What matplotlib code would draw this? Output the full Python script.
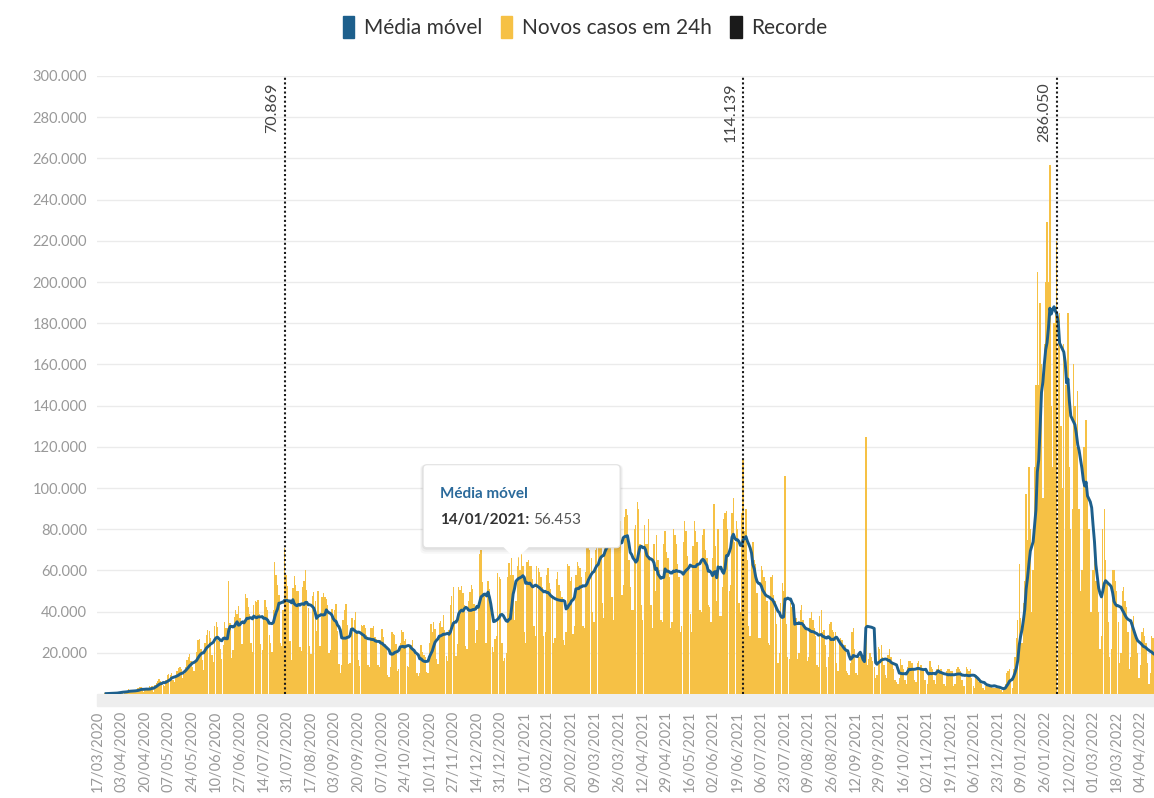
import numpy as np
import pandas as pd
import matplotlib
matplotlib.use('Agg')
import matplotlib.pyplot as plt
from matplotlib.patches import Patch, Rectangle, FancyBboxPatch, Polygon
from matplotlib.transforms import IdentityTransform
from matplotlib.ticker import FuncFormatter

plt.rcParams['font.family'] = ['Lato', 'DejaVu Sans']

inicio = '2020-03-17'

# novos casos por dia, em milhares (uma linha = uma semana, terça a segunda)
novos_casos_mil = [
    0.05, 0.1, 0.15, 0.2, 0.2, 0.3, 0.35,
    0.25, 0.3, 0.35, 0.5, 0.5, 0.35, 0.3,
    0.9, 1.1, 1.1, 1.2, 1.2, 0.8, 0.9,
    1.2, 2.2, 1.9, 1.5, 1.2, 1.3, 1.4,
    1.8, 3.0, 3.2, 3.3, 1.9, 1.2, 1.9,
    2.3, 2.7, 3.7, 3.5, 4.0, 1.2, 4.6,
    5.4, 6.3, 7.2, 6.2, 4.7, 4.6, 4.1,
    6.9, 9.3, 9.9, 9.2, 10.2, 6.6, 5.6,
    8.6, 11.4, 12.5, 13.0, 12.0, 7.9, 9.5,
    13.0, 16.5, 18.0, 19.5, 16.0, 13.0, 11.0,
    16.3, 20.6, 26.4, 26.9, 21.7, 16.4, 11.6,
    24.6, 28.6, 30.9, 30.8, 27.1, 18.9, 15.7,
    33.1, 34.9, 32.4, 25.9, 21.7, 17.1, 23.6,
    34.9, 32.2, 32.2, 54.8, 34.7, 17.5, 21.4,
    37.4, 40.7, 39.0, 42.9, 36.7, 24.5, 24.1,
    33.8, 48.6, 46.7, 42.2, 39.0, 24.8, 20.2,
    43.3, 45.0, 44.6, 45.4, 39.0, 24.5, 21.3,
    37.3, 45.4, 42.1, 41.0, 28.5, 24.6, 20.2,
    41.0, 64.0, 57.9, 52.9, 48.1, 24.6, 23.3,
    40.8, 70.869, 57.8, 52.5, 45.4, 25.8, 16.6,
    51.6, 57.2, 53.1, 50.2, 49.9, 23.0, 21.0,
    52.1, 54.8, 60.1, 50.6, 41.6, 23.1, 19.4,
    47.8, 49.3, 45.3, 30.4, 50.0, 23.4, 23.4,
    47.1, 48.8, 47.2, 46.1, 43.3, 20.0, 21.2,
    41.4, 36.8, 40.6, 43.7, 30.6, 14.5, 10.3,
    14.3, 35.8, 40.6, 43.7, 33.5, 14.8, 15.2,
    36.7, 36.8, 35.8, 39.8, 30.0, 16.4, 13.4,
    33.5, 32.8, 33.3, 32.1, 28.4, 14.3, 13.1,
    31.9, 32.0, 33.1, 27.8, 26.7, 14.0, 13.1,
    26.4, 31.5, 27.7, 24.1, 22.3, 9.3, 8.4,
    13.2, 30.0, 29.2, 28.5, 24.1, 11.1, 12.3,
    25.0, 30.9, 30.0, 25.7, 26.5, 13.5, 13.2,
    23.2, 23.6, 26.1, 21.8, 18.9, 10.1, 8.9,
    10.1, 23.9, 20.5, 19.0, 17.8, 10.5, 10.0,
    25.0, 34.0, 30.0, 35.0, 31.5, 17.0, 14.5,
    34.5, 35.2, 32.4, 38.3, 31.0, 18.6, 16.2,
    31.1, 43.1, 47.7, 52.1, 35.3, 18.6, 24.4,
    52.0, 50.4, 52.3, 48.8, 43.2, 23.5, 21.8,
    45.1, 49.4, 52.7, 51.1, 43.6, 24.6, 31.3,
    42.0, 68.0, 69.8, 54.4, 48.9, 25.0, 25.0,
    55.0, 51.0, 46.6, 23.0, 20.3, 26.6, 28.1,
    58.7, 56.6, 55.6, 24.6, 15.8, 17.3, 20.0,
    56.6, 63.5, 58.0, 66.0, 58.0, 36.0, 45.0,
    62, 68, 60, 69, 62, 30, 25,
    64, 65, 62, 62, 56, 33, 28,
    62, 61, 59, 57, 52, 28, 30,
    58, 61, 54, 51, 48, 25, 27,
    56, 59, 53, 50, 47, 26, 24,
    30, 63, 62, 55, 57, 29, 33,
    58, 64, 62, 61, 57, 33, 32,
    59, 71, 75, 70, 66, 40, 35,
    70, 80, 79, 85, 76, 44, 37,
    84, 90, 86, 90, 79, 47, 36,
    82, 89, 85, 90, 84, 48, 53,
    86, 90, 87, 65, 52, 41, 41,
    80, 82, 93, 90, 73, 43, 36,
    82, 73, 73, 85, 67, 43, 32,
    73, 50, 77, 65, 60, 36, 35,
    73, 79, 69, 66, 57, 32, 35,
    80, 77, 73, 63, 57, 30, 33,
    74, 84, 79, 67, 62, 39, 30,
    72, 84, 79, 74, 63, 41, 40,
    77, 80, 70, 66, 43, 42, 35,
    66, 92, 72, 45, 80, 38, 38,
    52, 85, 88, 89, 80, 50, 53,
    88, 95, 74, 84, 80, 44, 40,
    87.8, 114.139, 79, 90, 65, 33, 28,
    70, 74, 65, 63, 49, 27, 27,
    62, 60, 57, 55, 45, 25, 24,
    57, 58, 48, 45, 34, 15, 20,
    44, 54, 50, 106, 34, 18, 17,
    44, 42, 41, 41, 37, 17, 20,
    41, 43, 36, 34, 31, 16, 18,
    37, 40, 36, 32, 28, 14, 13,
    38, 41, 30, 31, 24, 13, 18,
    34, 35, 31, 30, 30, 15, 11,
    26, 27, 26, 23, 24, 11, 10,
    9, 15, 30, 32, 22, 10, 9,
    18, 21, 19, 18, 15, 125, 14,
    17, 20, 18, 16, 13, 8, 9,
    23, 22, 24, 18, 14, 9, 8,
    19, 22, 18, 15, 12, 7, 6,
    5, 8, 17, 14, 12, 7, 5,
    13, 16, 16, 15, 12, 7, 6,
    15, 16, 14, 14, 11, 7, 7,
    5, 10, 16, 13, 12, 7, 5,
    12, 14, 11, 12, 10, 5, 4,
    11, 12, 12, 11, 11, 4, 5,
    12, 13, 12, 11, 7, 4, 4,
    13, 12, 11, 12, 8, 4, 3,
    9, 8, 6, 6, 5, 3, 2,
    4, 5, 5, 4, 4, 3, 3,
    3, 3, 4, 3, 2, 1, 2,
    5, 10, 11, 12, 6, 3, 12,
    18, 27, 36, 63, 37, 25, 44,
    55, 97, 75, 110, 80, 40, 60,
    110, 150, 205, 150, 190, 160, 95,
    170, 200, 229, 200, 257, 140, 110,
    180, 185, 220, 172, 185, 130, 100,
    170, 150, 150, 185, 110, 80, 90,
    160, 140, 120, 147, 90, 50, 60,
    120, 120, 133, 100, 80, 40, 40,
    60, 65, 55, 60, 40, 22, 28,
    80, 90, 65, 55, 35, 18, 22,
    60, 60, 55, 50, 35, 15, 20,
    50, 52, 45, 42, 30, 12, 18,
    35, 38, 30, 28, 20, 8, 14,
    30, 32, 28, 25, 15, 5, 10,
    28, 27, 25,
]

recordes_datas = ['2020-07-29', '2021-06-23', '2022-02-03']
recordes_valores = [70869, 114139, 286050]

tooltip_data = '2021-01-14'
tooltip_valor = 56453

cor_barras = '#f6c145'
cor_media = '#1d5f8c'
cor_recorde = '#1a1a1a'

datas = pd.date_range(inicio, periods=len(novos_casos_mil), freq='D')
casos = pd.Series(np.array(novos_casos_mil) * 1000, index=datas)
media_movel = casos.rolling(7).mean()

fig = plt.figure(figsize=(11.54, 7.98), dpi=100)
ax = fig.add_axes([97 / 1154, 104 / 798, 1057 / 1154, 618 / 798])

ax.bar(datas, casos.values, width=0.95, color=cor_barras, linewidth=0, zorder=2)
ax.plot(datas, media_movel.values, color=cor_media, lw=2.1, zorder=3,
        solid_joinstyle='round')

for d, v in zip(recordes_datas, recordes_valores):
    dd = pd.Timestamp(d)
    ax.axvline(dd, color=cor_recorde, ls=(0, (1, 1.2)), lw=1.5, zorder=4)
    ax.annotate(f'{v:,}'.replace(',', '.'), xy=(dd, 297000), xytext=(-4, 0),
                textcoords='offset points', rotation=90, ha='right', va='top',
                fontsize=11.5, color='#444444')

ax.set_ylim(0, 300000)
ax.set_xlim(datas[0] - pd.Timedelta(hours=12), datas[0] + pd.Timedelta(days=757.7))
ax.set_yticks(range(20000, 300001, 20000))
ax.yaxis.set_major_formatter(FuncFormatter(lambda v, p: f'{v:,.0f}'.replace(',', '.')))

ticks = pd.date_range(inicio, '2022-04-04', freq='17D')
ax.set_xticks(ticks)
ax.set_xticklabels([t.strftime('%d/%m/%Y') for t in ticks], rotation=90, va='top', ha='center')

ax.tick_params(axis='y', length=0, pad=7, labelsize=10.5, labelcolor='#999999')
ax.tick_params(axis='x', length=0, pad=12, labelsize=10.5, labelcolor='#999999')
ax.yaxis.grid(True, color='#ebebeb', lw=1)
ax.set_axisbelow(True)
for s in ax.spines.values():
    s.set_visible(False)

# faixa cinza abaixo do eixo
ax.add_patch(Rectangle((0, -12 / 618), 1, 12 / 618, transform=ax.transAxes,
                       color='#eeeeee', clip_on=False, zorder=1))

handles = [Patch(color=cor_media), Patch(color=cor_barras), Patch(color=cor_recorde)]
fig.legend(handles, ['Média móvel', 'Novos casos em 24h', 'Recorde'],
           loc='upper center', bbox_to_anchor=(0.507, 1.003), ncol=3, frameon=False,
           fontsize=15, handlelength=0.55, handleheight=1.25, handletextpad=0.45,
           columnspacing=0.9, labelcolor='#333333')

# tooltip
fig.canvas.draw()
renderer = fig.canvas.get_renderer()
tx, ty = ax.transData.transform((matplotlib.dates.date2num(pd.Timestamp(tooltip_data)), tooltip_valor))
ident = IdentityTransform()
for k, a in [(6, 0.03), (4, 0.04), (2, 0.05)]:
    fig.add_artist(FancyBboxPatch((tx - 97 - k / 2, ty + 30 - k), 197 + k, 83 + k,
                                  boxstyle='round,pad=0,rounding_size=5', transform=ident,
                                  facecolor='black', alpha=a, edgecolor='none', zorder=9))
fig.add_artist(FancyBboxPatch((tx - 97, ty + 30), 197, 83, boxstyle='round,pad=0,rounding_size=4',
                              transform=ident, facecolor='white', edgecolor='#e2e2e2',
                              lw=0.8, zorder=10))
fig.add_artist(Polygon([(tx - 17, ty + 31), (tx - 4, ty + 18), (tx + 9, ty + 31)], closed=True,
                       transform=ident, facecolor='white', edgecolor='none', zorder=11))
fig.text(tx - 80, ty + 84, 'Média móvel', transform=ident, fontsize=11, fontweight='bold',
         color='#2b6a9b', va='center', ha='left', zorder=12)
t1 = fig.text(tx - 80, ty + 58, tooltip_data[8:10] + '/' + tooltip_data[5:7] + '/' + tooltip_data[:4] + ':',
              transform=ident, fontsize=11, fontweight='bold', color='#333333',
              va='center', ha='left', zorder=12)
bb = t1.get_window_extent(renderer)
fig.text(bb.x1 + 4, ty + 58, f'{tooltip_valor:,}'.replace(',', '.'), transform=ident,
         fontsize=11, color='#555555', va='center', ha='left', zorder=12)

fig.savefig('out.png', dpi=100)
